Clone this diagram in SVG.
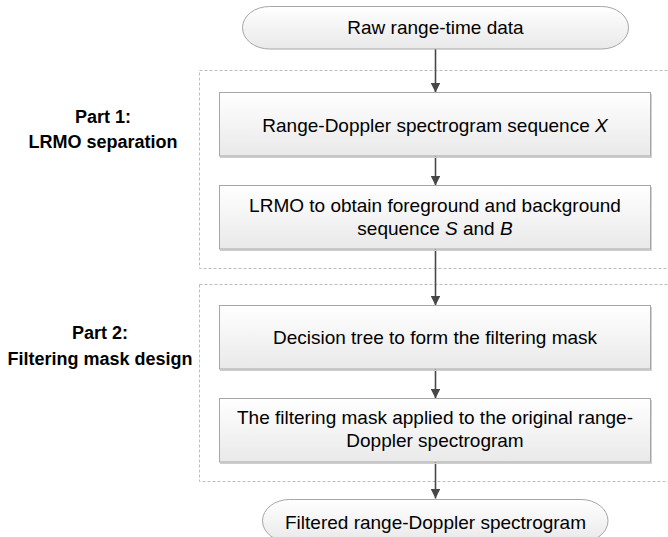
<svg xmlns="http://www.w3.org/2000/svg" width="668" height="537" viewBox="0 0 668 537">
  <style>
    .t { font-family: "Liberation Sans", Arial, sans-serif; font-size: 19px; fill: #000; text-anchor: middle; }
    .lbl { font-family: "Liberation Sans", Arial, sans-serif; font-size: 18px; font-weight: bold; fill: #000; text-anchor: middle; }
    .box { fill: url(#g); stroke: #a6a6a6; stroke-width: 1; }
    .shadow { fill: none; stroke: #cfcfcf; stroke-width: 1.5; }
    .term { fill: url(#g); stroke: #a6a6a6; stroke-width: 1; }
    .dash { fill: none; stroke: #bdbdbd; stroke-width: 1; stroke-dasharray: 3 2; }
    .conn { fill: none; stroke: #474747; stroke-width: 1.6; marker-end: url(#arr); }
    .it { font-style: italic; }
  </style>
  <defs>
    <linearGradient id="g" x1="0" y1="0" x2="0" y2="1">
      <stop offset="0" stop-color="#ffffff"/>
      <stop offset="1" stop-color="#e9e9e9"/>
    </linearGradient>
    <marker id="arr" viewBox="0 0 10 10" refX="10" refY="5" markerWidth="6.2" markerHeight="6.2" orient="auto" markerUnits="strokeWidth">
      <path d="M0,0 L10,5 L0,10 Z" fill="#474747"/>
    </marker>
  </defs>

  <g id="part1-frame">
    <rect class="dash" x="199.5" y="70.5" width="472" height="198"/>
    <text class="lbl" x="103" y="123">Part 1:</text>
    <text class="lbl" x="103" y="148">LRMO separation</text>
  </g>
  <g id="part2-frame">
    <rect class="dash" x="199.5" y="284.5" width="472" height="197"/>
    <text class="lbl" x="100" y="339">Part 2:</text>
    <text class="lbl" x="100" y="365">Filtering mask design</text>
  </g>

  <g id="connectors">
    <line class="conn" x1="435.5" y1="49" x2="435.5" y2="92.5"/>
    <line class="conn" x1="435.5" y1="156" x2="435.5" y2="185.5"/>
    <line class="conn" x1="435.5" y1="249" x2="435.5" y2="305.5"/>
    <line class="conn" x1="435.5" y1="369" x2="435.5" y2="398.5"/>
    <line class="conn" x1="435.5" y1="462" x2="435.5" y2="498.5"/>
  </g>

  <g id="raw-data">
    <rect class="term" x="242.5" y="6.5" width="386" height="42.5" rx="27" ry="21.25"/>
    <text class="t" x="435.5" y="34">Raw range-time data</text>
  </g>

  <g id="range-doppler">
    <path class="shadow" d="M220,157.2 H651.2 V94"/>
    <rect class="box" x="219.5" y="92.5" width="431" height="63.5"/>
    <text class="t" x="435" y="131.5">Range-Doppler spectrogram sequence <tspan class="it">X</tspan></text>
  </g>

  <g id="lrmo">
    <path class="shadow" d="M220,250.2 H651.2 V187"/>
    <rect class="box" x="219.5" y="185.5" width="431" height="63.5"/>
    <text class="t" x="435" y="212">LRMO to obtain foreground and background</text>
    <text class="t" x="435" y="235">sequence <tspan class="it">S</tspan> and <tspan class="it">B</tspan></text>
  </g>

  <g id="decision-tree">
    <path class="shadow" d="M220,370.2 H651.2 V307"/>
    <rect class="box" x="219.5" y="305.5" width="431" height="63.5"/>
    <text class="t" x="435" y="344.3">Decision tree to form the filtering mask</text>
  </g>

  <g id="mask-applied">
    <path class="shadow" d="M220,463.2 H651.2 V400"/>
    <rect class="box" x="219.5" y="398.5" width="431" height="63.5"/>
    <text class="t" x="435" y="424">The filtering mask applied to the original range-</text>
    <text class="t" x="435" y="447">Doppler spectrogram</text>
  </g>

  <g id="filtered">
    <rect class="term" x="262.5" y="499.5" width="345.5" height="42.5" rx="27" ry="21.25"/>
    <text class="t" x="435.5" y="529">Filtered range-Doppler spectrogram</text>
  </g>
</svg>
